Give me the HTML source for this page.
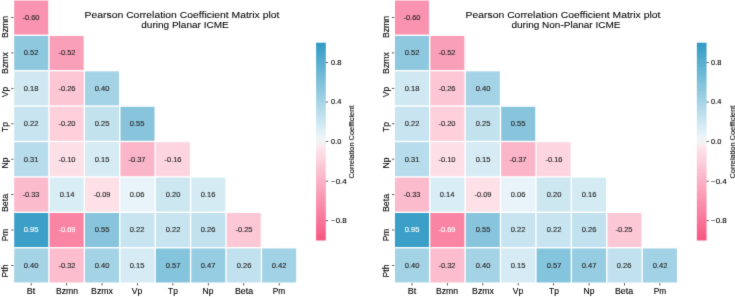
<!DOCTYPE html>
<html><head><meta charset="utf-8"><style>
html,body{margin:0;padding:0;background:#fff;}
body{width:735px;height:297px;position:relative;overflow:hidden;font-family:"Liberation Sans",sans-serif;}
#w{position:absolute;left:0;top:0;width:735px;height:297px;background:#fff;filter:url(#bf);}
.t,.r{position:absolute;}
.t{white-space:nowrap;-webkit-text-stroke:0.12px currentColor;}
.r{width:0;height:0;transform:rotate(-90deg);}
svg{position:absolute;left:0;top:0;}
.k{fill:#333;}
</style></head><body><svg width="0" height="0" style="position:absolute"><filter id="bf" x="0" y="0" width="100%" height="100%" color-interpolation-filters="sRGB"><feConvolveMatrix order="3" kernelMatrix="0.0113 0.0838 0.0113 0.0838 0.6193 0.0838 0.0113 0.0838 0.0113" edgeMode="duplicate"/></filter></svg><div id="w">
<svg width="735" height="297" viewBox="0 0 735 297"><defs><linearGradient id="g1" x1="0" y1="0" x2="0" y2="1"><stop offset="0.000%" stop-color="#329bc5"/><stop offset="0.391%" stop-color="#329bc5"/><stop offset="0.391%" stop-color="#349cc5"/><stop offset="0.781%" stop-color="#349cc5"/><stop offset="0.781%" stop-color="#359cc5"/><stop offset="1.172%" stop-color="#359cc5"/><stop offset="1.172%" stop-color="#369dc6"/><stop offset="1.562%" stop-color="#369dc6"/><stop offset="1.562%" stop-color="#389ec6"/><stop offset="1.953%" stop-color="#389ec6"/><stop offset="1.953%" stop-color="#399fc7"/><stop offset="2.344%" stop-color="#399fc7"/><stop offset="2.344%" stop-color="#3b9fc7"/><stop offset="2.734%" stop-color="#3b9fc7"/><stop offset="2.734%" stop-color="#3ca0c8"/><stop offset="3.125%" stop-color="#3ca0c8"/><stop offset="3.125%" stop-color="#3ea1c8"/><stop offset="3.516%" stop-color="#3ea1c8"/><stop offset="3.516%" stop-color="#3fa1c8"/><stop offset="3.906%" stop-color="#3fa1c8"/><stop offset="3.906%" stop-color="#41a2c9"/><stop offset="4.297%" stop-color="#41a2c9"/><stop offset="4.297%" stop-color="#43a3c9"/><stop offset="4.688%" stop-color="#43a3c9"/><stop offset="4.688%" stop-color="#44a4ca"/><stop offset="5.078%" stop-color="#44a4ca"/><stop offset="5.078%" stop-color="#46a5ca"/><stop offset="5.469%" stop-color="#46a5ca"/><stop offset="5.469%" stop-color="#47a5cb"/><stop offset="5.859%" stop-color="#47a5cb"/><stop offset="5.859%" stop-color="#49a6cb"/><stop offset="6.250%" stop-color="#49a6cb"/><stop offset="6.250%" stop-color="#4aa7cc"/><stop offset="6.641%" stop-color="#4aa7cc"/><stop offset="6.641%" stop-color="#4ba7cc"/><stop offset="7.031%" stop-color="#4ba7cc"/><stop offset="7.031%" stop-color="#4da8cc"/><stop offset="7.422%" stop-color="#4da8cc"/><stop offset="7.422%" stop-color="#4ea9cd"/><stop offset="7.812%" stop-color="#4ea9cd"/><stop offset="7.812%" stop-color="#50aacd"/><stop offset="8.203%" stop-color="#50aacd"/><stop offset="8.203%" stop-color="#52abce"/><stop offset="8.594%" stop-color="#52abce"/><stop offset="8.594%" stop-color="#53abce"/><stop offset="8.984%" stop-color="#53abce"/><stop offset="8.984%" stop-color="#55accf"/><stop offset="9.375%" stop-color="#55accf"/><stop offset="9.375%" stop-color="#56adcf"/><stop offset="9.766%" stop-color="#56adcf"/><stop offset="9.766%" stop-color="#58adcf"/><stop offset="10.156%" stop-color="#58adcf"/><stop offset="10.156%" stop-color="#59aed0"/><stop offset="10.547%" stop-color="#59aed0"/><stop offset="10.547%" stop-color="#5bafd0"/><stop offset="10.938%" stop-color="#5bafd0"/><stop offset="10.938%" stop-color="#5cb0d1"/><stop offset="11.328%" stop-color="#5cb0d1"/><stop offset="11.328%" stop-color="#5eb0d1"/><stop offset="11.719%" stop-color="#5eb0d1"/><stop offset="11.719%" stop-color="#5fb1d2"/><stop offset="12.109%" stop-color="#5fb1d2"/><stop offset="12.109%" stop-color="#61b2d2"/><stop offset="12.500%" stop-color="#61b2d2"/><stop offset="12.500%" stop-color="#63b3d3"/><stop offset="12.891%" stop-color="#63b3d3"/><stop offset="12.891%" stop-color="#64b3d3"/><stop offset="13.281%" stop-color="#64b3d3"/><stop offset="13.281%" stop-color="#65b4d3"/><stop offset="13.672%" stop-color="#65b4d3"/><stop offset="13.672%" stop-color="#67b5d4"/><stop offset="14.062%" stop-color="#67b5d4"/><stop offset="14.062%" stop-color="#68b6d4"/><stop offset="14.453%" stop-color="#68b6d4"/><stop offset="14.453%" stop-color="#6ab6d5"/><stop offset="14.844%" stop-color="#6ab6d5"/><stop offset="14.844%" stop-color="#6bb7d5"/><stop offset="15.234%" stop-color="#6bb7d5"/><stop offset="15.234%" stop-color="#6db8d6"/><stop offset="15.625%" stop-color="#6db8d6"/><stop offset="15.625%" stop-color="#6eb8d6"/><stop offset="16.016%" stop-color="#6eb8d6"/><stop offset="16.016%" stop-color="#70b9d7"/><stop offset="16.406%" stop-color="#70b9d7"/><stop offset="16.406%" stop-color="#72bad7"/><stop offset="16.797%" stop-color="#72bad7"/><stop offset="16.797%" stop-color="#73bbd7"/><stop offset="17.188%" stop-color="#73bbd7"/><stop offset="17.188%" stop-color="#75bcd8"/><stop offset="17.578%" stop-color="#75bcd8"/><stop offset="17.578%" stop-color="#76bcd8"/><stop offset="17.969%" stop-color="#76bcd8"/><stop offset="17.969%" stop-color="#78bdd9"/><stop offset="18.359%" stop-color="#78bdd9"/><stop offset="18.359%" stop-color="#79bed9"/><stop offset="18.750%" stop-color="#79bed9"/><stop offset="18.750%" stop-color="#7abeda"/><stop offset="19.141%" stop-color="#7abeda"/><stop offset="19.141%" stop-color="#7cbfda"/><stop offset="19.531%" stop-color="#7cbfda"/><stop offset="19.531%" stop-color="#7dc0da"/><stop offset="19.922%" stop-color="#7dc0da"/><stop offset="19.922%" stop-color="#80c1db"/><stop offset="20.312%" stop-color="#80c1db"/><stop offset="20.312%" stop-color="#81c2db"/><stop offset="20.703%" stop-color="#81c2db"/><stop offset="20.703%" stop-color="#82c2dc"/><stop offset="21.094%" stop-color="#82c2dc"/><stop offset="21.094%" stop-color="#84c3dc"/><stop offset="21.484%" stop-color="#84c3dc"/><stop offset="21.484%" stop-color="#85c4dd"/><stop offset="21.875%" stop-color="#85c4dd"/><stop offset="21.875%" stop-color="#87c5dd"/><stop offset="22.266%" stop-color="#87c5dd"/><stop offset="22.266%" stop-color="#88c5dd"/><stop offset="22.656%" stop-color="#88c5dd"/><stop offset="22.656%" stop-color="#8ac6de"/><stop offset="23.047%" stop-color="#8ac6de"/><stop offset="23.047%" stop-color="#8bc7de"/><stop offset="23.438%" stop-color="#8bc7de"/><stop offset="23.438%" stop-color="#8dc7df"/><stop offset="23.828%" stop-color="#8dc7df"/><stop offset="23.828%" stop-color="#8ec8df"/><stop offset="24.219%" stop-color="#8ec8df"/><stop offset="24.219%" stop-color="#90c9e0"/><stop offset="24.609%" stop-color="#90c9e0"/><stop offset="24.609%" stop-color="#92cae0"/><stop offset="25.000%" stop-color="#92cae0"/><stop offset="25.000%" stop-color="#93cbe1"/><stop offset="25.391%" stop-color="#93cbe1"/><stop offset="25.391%" stop-color="#95cbe1"/><stop offset="25.781%" stop-color="#95cbe1"/><stop offset="25.781%" stop-color="#96cce1"/><stop offset="26.172%" stop-color="#96cce1"/><stop offset="26.172%" stop-color="#97cde2"/><stop offset="26.562%" stop-color="#97cde2"/><stop offset="26.562%" stop-color="#99cde2"/><stop offset="26.953%" stop-color="#99cde2"/><stop offset="26.953%" stop-color="#9acee3"/><stop offset="27.344%" stop-color="#9acee3"/><stop offset="27.344%" stop-color="#9ccfe3"/><stop offset="27.734%" stop-color="#9ccfe3"/><stop offset="27.734%" stop-color="#9dd0e4"/><stop offset="28.125%" stop-color="#9dd0e4"/><stop offset="28.125%" stop-color="#9fd1e4"/><stop offset="28.516%" stop-color="#9fd1e4"/><stop offset="28.516%" stop-color="#a1d1e5"/><stop offset="28.906%" stop-color="#a1d1e5"/><stop offset="28.906%" stop-color="#a2d2e5"/><stop offset="29.297%" stop-color="#a2d2e5"/><stop offset="29.297%" stop-color="#a4d3e5"/><stop offset="29.688%" stop-color="#a4d3e5"/><stop offset="29.688%" stop-color="#a5d3e6"/><stop offset="30.078%" stop-color="#a5d3e6"/><stop offset="30.078%" stop-color="#a7d4e6"/><stop offset="30.469%" stop-color="#a7d4e6"/><stop offset="30.469%" stop-color="#a8d5e7"/><stop offset="30.859%" stop-color="#a8d5e7"/><stop offset="30.859%" stop-color="#aad6e7"/><stop offset="31.250%" stop-color="#aad6e7"/><stop offset="31.250%" stop-color="#abd6e7"/><stop offset="31.641%" stop-color="#abd6e7"/><stop offset="31.641%" stop-color="#acd7e8"/><stop offset="32.031%" stop-color="#acd7e8"/><stop offset="32.031%" stop-color="#afd8e9"/><stop offset="32.422%" stop-color="#afd8e9"/><stop offset="32.422%" stop-color="#b0d9e9"/><stop offset="32.812%" stop-color="#b0d9e9"/><stop offset="32.812%" stop-color="#b1d9e9"/><stop offset="33.203%" stop-color="#b1d9e9"/><stop offset="33.203%" stop-color="#b3daea"/><stop offset="33.594%" stop-color="#b3daea"/><stop offset="33.594%" stop-color="#b4dbea"/><stop offset="33.984%" stop-color="#b4dbea"/><stop offset="33.984%" stop-color="#b6dceb"/><stop offset="34.375%" stop-color="#b6dceb"/><stop offset="34.375%" stop-color="#b7dceb"/><stop offset="34.766%" stop-color="#b7dceb"/><stop offset="34.766%" stop-color="#b9ddeb"/><stop offset="35.156%" stop-color="#b9ddeb"/><stop offset="35.156%" stop-color="#badeec"/><stop offset="35.547%" stop-color="#badeec"/><stop offset="35.547%" stop-color="#bcdeec"/><stop offset="35.938%" stop-color="#bcdeec"/><stop offset="35.938%" stop-color="#bedfed"/><stop offset="36.328%" stop-color="#bedfed"/><stop offset="36.328%" stop-color="#bfe0ed"/><stop offset="36.719%" stop-color="#bfe0ed"/><stop offset="36.719%" stop-color="#c1e1ee"/><stop offset="37.109%" stop-color="#c1e1ee"/><stop offset="37.109%" stop-color="#c2e2ee"/><stop offset="37.500%" stop-color="#c2e2ee"/><stop offset="37.500%" stop-color="#c4e2ef"/><stop offset="37.891%" stop-color="#c4e2ef"/><stop offset="37.891%" stop-color="#c5e3ef"/><stop offset="38.281%" stop-color="#c5e3ef"/><stop offset="38.281%" stop-color="#c6e4ef"/><stop offset="38.672%" stop-color="#c6e4ef"/><stop offset="38.672%" stop-color="#c8e4f0"/><stop offset="39.062%" stop-color="#c8e4f0"/><stop offset="39.062%" stop-color="#c9e5f0"/><stop offset="39.453%" stop-color="#c9e5f0"/><stop offset="39.453%" stop-color="#cbe6f1"/><stop offset="39.844%" stop-color="#cbe6f1"/><stop offset="39.844%" stop-color="#cde7f1"/><stop offset="40.234%" stop-color="#cde7f1"/><stop offset="40.234%" stop-color="#cee8f2"/><stop offset="40.625%" stop-color="#cee8f2"/><stop offset="40.625%" stop-color="#d0e8f2"/><stop offset="41.016%" stop-color="#d0e8f2"/><stop offset="41.016%" stop-color="#d1e9f3"/><stop offset="41.406%" stop-color="#d1e9f3"/><stop offset="41.406%" stop-color="#d3eaf3"/><stop offset="41.797%" stop-color="#d3eaf3"/><stop offset="41.797%" stop-color="#d4ebf3"/><stop offset="42.188%" stop-color="#d4ebf3"/><stop offset="42.188%" stop-color="#d6ebf4"/><stop offset="42.578%" stop-color="#d6ebf4"/><stop offset="42.578%" stop-color="#d7ecf4"/><stop offset="42.969%" stop-color="#d7ecf4"/><stop offset="42.969%" stop-color="#d9edf5"/><stop offset="43.359%" stop-color="#d9edf5"/><stop offset="43.359%" stop-color="#daedf5"/><stop offset="43.750%" stop-color="#daedf5"/><stop offset="43.750%" stop-color="#dceef6"/><stop offset="44.141%" stop-color="#dceef6"/><stop offset="44.141%" stop-color="#deeff6"/><stop offset="44.531%" stop-color="#deeff6"/><stop offset="44.531%" stop-color="#dff0f6"/><stop offset="44.922%" stop-color="#dff0f6"/><stop offset="44.922%" stop-color="#e1f1f7"/><stop offset="45.312%" stop-color="#e1f1f7"/><stop offset="45.312%" stop-color="#e2f1f7"/><stop offset="45.703%" stop-color="#e2f1f7"/><stop offset="45.703%" stop-color="#e3f2f8"/><stop offset="46.094%" stop-color="#e3f2f8"/><stop offset="46.094%" stop-color="#e5f3f8"/><stop offset="46.484%" stop-color="#e5f3f8"/><stop offset="46.484%" stop-color="#e6f3f9"/><stop offset="46.875%" stop-color="#e6f3f9"/><stop offset="46.875%" stop-color="#e8f4f9"/><stop offset="47.266%" stop-color="#e8f4f9"/><stop offset="47.266%" stop-color="#e9f5f9"/><stop offset="47.656%" stop-color="#e9f5f9"/><stop offset="47.656%" stop-color="#ebf6fa"/><stop offset="48.047%" stop-color="#ebf6fa"/><stop offset="48.047%" stop-color="#f2f2f2"/><stop offset="48.438%" stop-color="#f2f2f2"/><stop offset="48.438%" stop-color="#f2f2f2"/><stop offset="48.828%" stop-color="#f2f2f2"/><stop offset="48.828%" stop-color="#f2f2f2"/><stop offset="49.219%" stop-color="#f2f2f2"/><stop offset="49.219%" stop-color="#f2f2f2"/><stop offset="49.609%" stop-color="#f2f2f2"/><stop offset="49.609%" stop-color="#f2f2f2"/><stop offset="50.000%" stop-color="#f2f2f2"/><stop offset="50.000%" stop-color="#f2f2f2"/><stop offset="50.391%" stop-color="#f2f2f2"/><stop offset="50.391%" stop-color="#f2f2f2"/><stop offset="50.781%" stop-color="#f2f2f2"/><stop offset="50.781%" stop-color="#f2f2f2"/><stop offset="51.172%" stop-color="#f2f2f2"/><stop offset="51.172%" stop-color="#f2f2f2"/><stop offset="51.562%" stop-color="#f2f2f2"/><stop offset="51.562%" stop-color="#f2f2f2"/><stop offset="51.953%" stop-color="#f2f2f2"/><stop offset="51.953%" stop-color="#fee7ed"/><stop offset="52.344%" stop-color="#fee7ed"/><stop offset="52.344%" stop-color="#fee6ec"/><stop offset="52.734%" stop-color="#fee6ec"/><stop offset="52.734%" stop-color="#fee4eb"/><stop offset="53.125%" stop-color="#fee4eb"/><stop offset="53.125%" stop-color="#fee3ea"/><stop offset="53.516%" stop-color="#fee3ea"/><stop offset="53.516%" stop-color="#fee2ea"/><stop offset="53.906%" stop-color="#fee2ea"/><stop offset="53.906%" stop-color="#fee1e9"/><stop offset="54.297%" stop-color="#fee1e9"/><stop offset="54.297%" stop-color="#fde0e8"/><stop offset="54.688%" stop-color="#fde0e8"/><stop offset="54.688%" stop-color="#fddfe7"/><stop offset="55.078%" stop-color="#fddfe7"/><stop offset="55.078%" stop-color="#fddee6"/><stop offset="55.469%" stop-color="#fddee6"/><stop offset="55.469%" stop-color="#fddde5"/><stop offset="55.859%" stop-color="#fddde5"/><stop offset="55.859%" stop-color="#fddbe5"/><stop offset="56.250%" stop-color="#fddbe5"/><stop offset="56.250%" stop-color="#fddae3"/><stop offset="56.641%" stop-color="#fddae3"/><stop offset="56.641%" stop-color="#fdd9e3"/><stop offset="57.031%" stop-color="#fdd9e3"/><stop offset="57.031%" stop-color="#fdd7e2"/><stop offset="57.422%" stop-color="#fdd7e2"/><stop offset="57.422%" stop-color="#fdd6e1"/><stop offset="57.812%" stop-color="#fdd6e1"/><stop offset="57.812%" stop-color="#fdd5e0"/><stop offset="58.203%" stop-color="#fdd5e0"/><stop offset="58.203%" stop-color="#fdd4df"/><stop offset="58.594%" stop-color="#fdd4df"/><stop offset="58.594%" stop-color="#fdd3de"/><stop offset="58.984%" stop-color="#fdd3de"/><stop offset="58.984%" stop-color="#fdd2de"/><stop offset="59.375%" stop-color="#fdd2de"/><stop offset="59.375%" stop-color="#fdd1dd"/><stop offset="59.766%" stop-color="#fdd1dd"/><stop offset="59.766%" stop-color="#fdd0dc"/><stop offset="60.156%" stop-color="#fdd0dc"/><stop offset="60.156%" stop-color="#fdcedb"/><stop offset="60.547%" stop-color="#fdcedb"/><stop offset="60.547%" stop-color="#fdcdda"/><stop offset="60.938%" stop-color="#fdcdda"/><stop offset="60.938%" stop-color="#fcccd9"/><stop offset="61.328%" stop-color="#fcccd9"/><stop offset="61.328%" stop-color="#fccad8"/><stop offset="61.719%" stop-color="#fccad8"/><stop offset="61.719%" stop-color="#fcc9d7"/><stop offset="62.109%" stop-color="#fcc9d7"/><stop offset="62.109%" stop-color="#fcc8d6"/><stop offset="62.500%" stop-color="#fcc8d6"/><stop offset="62.500%" stop-color="#fcc7d6"/><stop offset="62.891%" stop-color="#fcc7d6"/><stop offset="62.891%" stop-color="#fcc6d5"/><stop offset="63.281%" stop-color="#fcc6d5"/><stop offset="63.281%" stop-color="#fcc5d4"/><stop offset="63.672%" stop-color="#fcc5d4"/><stop offset="63.672%" stop-color="#fcc4d3"/><stop offset="64.062%" stop-color="#fcc4d3"/><stop offset="64.062%" stop-color="#fcc2d2"/><stop offset="64.453%" stop-color="#fcc2d2"/><stop offset="64.453%" stop-color="#fcc1d1"/><stop offset="64.844%" stop-color="#fcc1d1"/><stop offset="64.844%" stop-color="#fcc0d0"/><stop offset="65.234%" stop-color="#fcc0d0"/><stop offset="65.234%" stop-color="#fcbfcf"/><stop offset="65.625%" stop-color="#fcbfcf"/><stop offset="65.625%" stop-color="#fcbdce"/><stop offset="66.016%" stop-color="#fcbdce"/><stop offset="66.016%" stop-color="#fcbcce"/><stop offset="66.406%" stop-color="#fcbcce"/><stop offset="66.406%" stop-color="#fcbbcd"/><stop offset="66.797%" stop-color="#fcbbcd"/><stop offset="66.797%" stop-color="#fcbacc"/><stop offset="67.188%" stop-color="#fcbacc"/><stop offset="67.188%" stop-color="#fcb9cb"/><stop offset="67.578%" stop-color="#fcb9cb"/><stop offset="67.578%" stop-color="#fcb8ca"/><stop offset="67.969%" stop-color="#fcb8ca"/><stop offset="67.969%" stop-color="#fbb6c9"/><stop offset="68.359%" stop-color="#fbb6c9"/><stop offset="68.359%" stop-color="#fbb5c8"/><stop offset="68.750%" stop-color="#fbb5c8"/><stop offset="68.750%" stop-color="#fbb4c7"/><stop offset="69.141%" stop-color="#fbb4c7"/><stop offset="69.141%" stop-color="#fbb3c7"/><stop offset="69.531%" stop-color="#fbb3c7"/><stop offset="69.531%" stop-color="#fbb2c6"/><stop offset="69.922%" stop-color="#fbb2c6"/><stop offset="69.922%" stop-color="#fbb0c5"/><stop offset="70.312%" stop-color="#fbb0c5"/><stop offset="70.312%" stop-color="#fbafc4"/><stop offset="70.703%" stop-color="#fbafc4"/><stop offset="70.703%" stop-color="#fbaec3"/><stop offset="71.094%" stop-color="#fbaec3"/><stop offset="71.094%" stop-color="#fbadc2"/><stop offset="71.484%" stop-color="#fbadc2"/><stop offset="71.484%" stop-color="#fbacc2"/><stop offset="71.875%" stop-color="#fbacc2"/><stop offset="71.875%" stop-color="#fbaac0"/><stop offset="72.266%" stop-color="#fbaac0"/><stop offset="72.266%" stop-color="#fba9bf"/><stop offset="72.656%" stop-color="#fba9bf"/><stop offset="72.656%" stop-color="#fba8bf"/><stop offset="73.047%" stop-color="#fba8bf"/><stop offset="73.047%" stop-color="#fba7be"/><stop offset="73.438%" stop-color="#fba7be"/><stop offset="73.438%" stop-color="#fba6bd"/><stop offset="73.828%" stop-color="#fba6bd"/><stop offset="73.828%" stop-color="#fba5bc"/><stop offset="74.219%" stop-color="#fba5bc"/><stop offset="74.219%" stop-color="#fba3bb"/><stop offset="74.609%" stop-color="#fba3bb"/><stop offset="74.609%" stop-color="#faa2ba"/><stop offset="75.000%" stop-color="#faa2ba"/><stop offset="75.000%" stop-color="#faa1ba"/><stop offset="75.391%" stop-color="#faa1ba"/><stop offset="75.391%" stop-color="#faa0b9"/><stop offset="75.781%" stop-color="#faa0b9"/><stop offset="75.781%" stop-color="#fa9fb8"/><stop offset="76.172%" stop-color="#fa9fb8"/><stop offset="76.172%" stop-color="#fa9db7"/><stop offset="76.562%" stop-color="#fa9db7"/><stop offset="76.562%" stop-color="#fa9cb6"/><stop offset="76.953%" stop-color="#fa9cb6"/><stop offset="76.953%" stop-color="#fa9bb5"/><stop offset="77.344%" stop-color="#fa9bb5"/><stop offset="77.344%" stop-color="#fa9ab4"/><stop offset="77.734%" stop-color="#fa9ab4"/><stop offset="77.734%" stop-color="#fa99b3"/><stop offset="78.125%" stop-color="#fa99b3"/><stop offset="78.125%" stop-color="#fa98b2"/><stop offset="78.516%" stop-color="#fa98b2"/><stop offset="78.516%" stop-color="#fa97b2"/><stop offset="78.906%" stop-color="#fa97b2"/><stop offset="78.906%" stop-color="#fa95b1"/><stop offset="79.297%" stop-color="#fa95b1"/><stop offset="79.297%" stop-color="#fa94b0"/><stop offset="79.688%" stop-color="#fa94b0"/><stop offset="79.688%" stop-color="#fa93af"/><stop offset="80.078%" stop-color="#fa93af"/><stop offset="80.078%" stop-color="#fa91ae"/><stop offset="80.469%" stop-color="#fa91ae"/><stop offset="80.469%" stop-color="#fa90ad"/><stop offset="80.859%" stop-color="#fa90ad"/><stop offset="80.859%" stop-color="#fa8fac"/><stop offset="81.250%" stop-color="#fa8fac"/><stop offset="81.250%" stop-color="#f98eab"/><stop offset="81.641%" stop-color="#f98eab"/><stop offset="81.641%" stop-color="#f98dab"/><stop offset="82.031%" stop-color="#f98dab"/><stop offset="82.031%" stop-color="#f98caa"/><stop offset="82.422%" stop-color="#f98caa"/><stop offset="82.422%" stop-color="#f98ba9"/><stop offset="82.812%" stop-color="#f98ba9"/><stop offset="82.812%" stop-color="#f98aa8"/><stop offset="83.203%" stop-color="#f98aa8"/><stop offset="83.203%" stop-color="#f988a7"/><stop offset="83.594%" stop-color="#f988a7"/><stop offset="83.594%" stop-color="#f987a6"/><stop offset="83.984%" stop-color="#f987a6"/><stop offset="83.984%" stop-color="#f986a5"/><stop offset="84.375%" stop-color="#f986a5"/><stop offset="84.375%" stop-color="#f984a4"/><stop offset="84.766%" stop-color="#f984a4"/><stop offset="84.766%" stop-color="#f983a3"/><stop offset="85.156%" stop-color="#f983a3"/><stop offset="85.156%" stop-color="#f982a3"/><stop offset="85.547%" stop-color="#f982a3"/><stop offset="85.547%" stop-color="#f981a2"/><stop offset="85.938%" stop-color="#f981a2"/><stop offset="85.938%" stop-color="#f980a1"/><stop offset="86.328%" stop-color="#f980a1"/><stop offset="86.328%" stop-color="#f97fa0"/><stop offset="86.719%" stop-color="#f97fa0"/><stop offset="86.719%" stop-color="#f97e9f"/><stop offset="87.109%" stop-color="#f97e9f"/><stop offset="87.109%" stop-color="#f97d9e"/><stop offset="87.500%" stop-color="#f97d9e"/><stop offset="87.500%" stop-color="#f97b9e"/><stop offset="87.891%" stop-color="#f97b9e"/><stop offset="87.891%" stop-color="#f87a9c"/><stop offset="88.281%" stop-color="#f87a9c"/><stop offset="88.281%" stop-color="#f8799c"/><stop offset="88.672%" stop-color="#f8799c"/><stop offset="88.672%" stop-color="#f8779b"/><stop offset="89.062%" stop-color="#f8779b"/><stop offset="89.062%" stop-color="#f8769a"/><stop offset="89.453%" stop-color="#f8769a"/><stop offset="89.453%" stop-color="#f87599"/><stop offset="89.844%" stop-color="#f87599"/><stop offset="89.844%" stop-color="#f87498"/><stop offset="90.234%" stop-color="#f87498"/><stop offset="90.234%" stop-color="#f87397"/><stop offset="90.625%" stop-color="#f87397"/><stop offset="90.625%" stop-color="#f87296"/><stop offset="91.016%" stop-color="#f87296"/><stop offset="91.016%" stop-color="#f87196"/><stop offset="91.406%" stop-color="#f87196"/><stop offset="91.406%" stop-color="#f87095"/><stop offset="91.797%" stop-color="#f87095"/><stop offset="91.797%" stop-color="#f86e94"/><stop offset="92.188%" stop-color="#f86e94"/><stop offset="92.188%" stop-color="#f86d93"/><stop offset="92.578%" stop-color="#f86d93"/><stop offset="92.578%" stop-color="#f86c92"/><stop offset="92.969%" stop-color="#f86c92"/><stop offset="92.969%" stop-color="#f86a91"/><stop offset="93.359%" stop-color="#f86a91"/><stop offset="93.359%" stop-color="#f86990"/><stop offset="93.750%" stop-color="#f86990"/><stop offset="93.750%" stop-color="#f8688f"/><stop offset="94.141%" stop-color="#f8688f"/><stop offset="94.141%" stop-color="#f8678f"/><stop offset="94.531%" stop-color="#f8678f"/><stop offset="94.531%" stop-color="#f8668e"/><stop offset="94.922%" stop-color="#f8668e"/><stop offset="94.922%" stop-color="#f7658d"/><stop offset="95.312%" stop-color="#f7658d"/><stop offset="95.312%" stop-color="#f7648c"/><stop offset="95.703%" stop-color="#f7648c"/><stop offset="95.703%" stop-color="#f7628b"/><stop offset="96.094%" stop-color="#f7628b"/><stop offset="96.094%" stop-color="#f7618a"/><stop offset="96.484%" stop-color="#f7618a"/><stop offset="96.484%" stop-color="#f76089"/><stop offset="96.875%" stop-color="#f76089"/><stop offset="96.875%" stop-color="#f75f88"/><stop offset="97.266%" stop-color="#f75f88"/><stop offset="97.266%" stop-color="#f75d87"/><stop offset="97.656%" stop-color="#f75d87"/><stop offset="97.656%" stop-color="#f75c87"/><stop offset="98.047%" stop-color="#f75c87"/><stop offset="98.047%" stop-color="#f75b86"/><stop offset="98.438%" stop-color="#f75b86"/><stop offset="98.438%" stop-color="#f75a85"/><stop offset="98.828%" stop-color="#f75a85"/><stop offset="98.828%" stop-color="#f75984"/><stop offset="99.219%" stop-color="#f75984"/><stop offset="99.219%" stop-color="#f75883"/><stop offset="99.609%" stop-color="#f75883"/><stop offset="99.609%" stop-color="#f75782"/><stop offset="100.000%" stop-color="#f75782"/></linearGradient></defs>
<rect x="14.20" y="0.50" width="34.02" height="34.02" fill="#fa93af"/>
<rect x="14.20" y="35.92" width="34.02" height="34.02" fill="#8ec8df"/>
<rect x="49.62" y="35.92" width="34.02" height="34.02" fill="#fa9fb8"/>
<rect x="14.20" y="71.34" width="34.02" height="34.02" fill="#d0e8f2"/>
<rect x="49.62" y="71.34" width="34.02" height="34.02" fill="#fcc6d5"/>
<rect x="85.04" y="71.34" width="34.02" height="34.02" fill="#a5d3e6"/>
<rect x="14.20" y="106.76" width="34.02" height="34.02" fill="#c8e4f0"/>
<rect x="49.62" y="106.76" width="34.02" height="34.02" fill="#fdd0dc"/>
<rect x="85.04" y="106.76" width="34.02" height="34.02" fill="#c2e2ee"/>
<rect x="120.46" y="106.76" width="34.02" height="34.02" fill="#88c5dd"/>
<rect x="14.20" y="142.18" width="34.02" height="34.02" fill="#b7dceb"/>
<rect x="49.62" y="142.18" width="34.02" height="34.02" fill="#fddfe7"/>
<rect x="85.04" y="142.18" width="34.02" height="34.02" fill="#d6ebf4"/>
<rect x="120.46" y="142.18" width="34.02" height="34.02" fill="#fbb5c8"/>
<rect x="155.88" y="142.18" width="34.02" height="34.02" fill="#fdd5e0"/>
<rect x="14.20" y="177.60" width="34.02" height="34.02" fill="#fcbbcd"/>
<rect x="49.62" y="177.60" width="34.02" height="34.02" fill="#d9edf5"/>
<rect x="85.04" y="177.60" width="34.02" height="34.02" fill="#fde0e8"/>
<rect x="120.46" y="177.60" width="34.02" height="34.02" fill="#e8f4f9"/>
<rect x="155.88" y="177.60" width="34.02" height="34.02" fill="#cde7f1"/>
<rect x="191.30" y="177.60" width="34.02" height="34.02" fill="#d4ebf3"/>
<rect x="14.20" y="213.02" width="34.02" height="34.02" fill="#3b9fc7"/>
<rect x="49.62" y="213.02" width="34.02" height="34.02" fill="#f984a4"/>
<rect x="85.04" y="213.02" width="34.02" height="34.02" fill="#88c5dd"/>
<rect x="120.46" y="213.02" width="34.02" height="34.02" fill="#c8e4f0"/>
<rect x="155.88" y="213.02" width="34.02" height="34.02" fill="#c8e4f0"/>
<rect x="191.30" y="213.02" width="34.02" height="34.02" fill="#c1e1ee"/>
<rect x="226.72" y="213.02" width="34.02" height="34.02" fill="#fcc8d6"/>
<rect x="14.20" y="248.44" width="34.02" height="34.02" fill="#a5d3e6"/>
<rect x="49.62" y="248.44" width="34.02" height="34.02" fill="#fcbdce"/>
<rect x="85.04" y="248.44" width="34.02" height="34.02" fill="#a5d3e6"/>
<rect x="120.46" y="248.44" width="34.02" height="34.02" fill="#d6ebf4"/>
<rect x="155.88" y="248.44" width="34.02" height="34.02" fill="#85c4dd"/>
<rect x="191.30" y="248.44" width="34.02" height="34.02" fill="#97cde2"/>
<rect x="226.72" y="248.44" width="34.02" height="34.02" fill="#c1e1ee"/>
<rect x="262.14" y="248.44" width="34.02" height="34.02" fill="#a2d2e5"/>
<rect class="k" x="11.20" y="17.11" width="2.3" height="0.8"/>
<rect class="k" x="11.20" y="52.53" width="2.3" height="0.8"/>
<rect class="k" x="11.20" y="87.95" width="2.3" height="0.8"/>
<rect class="k" x="11.20" y="123.37" width="2.3" height="0.8"/>
<rect class="k" x="11.20" y="158.79" width="2.3" height="0.8"/>
<rect class="k" x="11.20" y="194.21" width="2.3" height="0.8"/>
<rect class="k" x="11.20" y="229.63" width="2.3" height="0.8"/>
<rect class="k" x="11.20" y="265.05" width="2.3" height="0.8"/>
<rect class="k" x="30.81" y="283.16" width="0.8" height="2.3"/>
<rect class="k" x="66.23" y="283.16" width="0.8" height="2.3"/>
<rect class="k" x="101.65" y="283.16" width="0.8" height="2.3"/>
<rect class="k" x="137.07" y="283.16" width="0.8" height="2.3"/>
<rect class="k" x="172.49" y="283.16" width="0.8" height="2.3"/>
<rect class="k" x="207.91" y="283.16" width="0.8" height="2.3"/>
<rect class="k" x="243.33" y="283.16" width="0.8" height="2.3"/>
<rect class="k" x="278.75" y="283.16" width="0.8" height="2.3"/>
<rect x="316.10" y="42.70" width="9.70" height="197.80" fill="url(#g1)"/>
<rect class="k" x="325.80" y="62.08" width="2.3" height="0.8"/>
<rect class="k" x="325.80" y="101.64" width="2.3" height="0.8"/>
<rect class="k" x="325.80" y="141.20" width="2.3" height="0.8"/>
<rect class="k" x="325.80" y="180.76" width="2.3" height="0.8"/>
<rect class="k" x="325.80" y="220.32" width="2.3" height="0.8"/>
<rect x="394.95" y="0.50" width="34.02" height="34.02" fill="#fa93af"/>
<rect x="394.95" y="35.92" width="34.02" height="34.02" fill="#8ec8df"/>
<rect x="430.37" y="35.92" width="34.02" height="34.02" fill="#fa9fb8"/>
<rect x="394.95" y="71.34" width="34.02" height="34.02" fill="#d0e8f2"/>
<rect x="430.37" y="71.34" width="34.02" height="34.02" fill="#fcc6d5"/>
<rect x="465.79" y="71.34" width="34.02" height="34.02" fill="#a5d3e6"/>
<rect x="394.95" y="106.76" width="34.02" height="34.02" fill="#c8e4f0"/>
<rect x="430.37" y="106.76" width="34.02" height="34.02" fill="#fdd0dc"/>
<rect x="465.79" y="106.76" width="34.02" height="34.02" fill="#c2e2ee"/>
<rect x="501.21" y="106.76" width="34.02" height="34.02" fill="#88c5dd"/>
<rect x="394.95" y="142.18" width="34.02" height="34.02" fill="#b7dceb"/>
<rect x="430.37" y="142.18" width="34.02" height="34.02" fill="#fddfe7"/>
<rect x="465.79" y="142.18" width="34.02" height="34.02" fill="#d6ebf4"/>
<rect x="501.21" y="142.18" width="34.02" height="34.02" fill="#fbb5c8"/>
<rect x="536.63" y="142.18" width="34.02" height="34.02" fill="#fdd5e0"/>
<rect x="394.95" y="177.60" width="34.02" height="34.02" fill="#fcbbcd"/>
<rect x="430.37" y="177.60" width="34.02" height="34.02" fill="#d9edf5"/>
<rect x="465.79" y="177.60" width="34.02" height="34.02" fill="#fde0e8"/>
<rect x="501.21" y="177.60" width="34.02" height="34.02" fill="#e8f4f9"/>
<rect x="536.63" y="177.60" width="34.02" height="34.02" fill="#cde7f1"/>
<rect x="572.05" y="177.60" width="34.02" height="34.02" fill="#d4ebf3"/>
<rect x="394.95" y="213.02" width="34.02" height="34.02" fill="#3b9fc7"/>
<rect x="430.37" y="213.02" width="34.02" height="34.02" fill="#f984a4"/>
<rect x="465.79" y="213.02" width="34.02" height="34.02" fill="#88c5dd"/>
<rect x="501.21" y="213.02" width="34.02" height="34.02" fill="#c8e4f0"/>
<rect x="536.63" y="213.02" width="34.02" height="34.02" fill="#c8e4f0"/>
<rect x="572.05" y="213.02" width="34.02" height="34.02" fill="#c1e1ee"/>
<rect x="607.47" y="213.02" width="34.02" height="34.02" fill="#fcc8d6"/>
<rect x="394.95" y="248.44" width="34.02" height="34.02" fill="#a5d3e6"/>
<rect x="430.37" y="248.44" width="34.02" height="34.02" fill="#fcbdce"/>
<rect x="465.79" y="248.44" width="34.02" height="34.02" fill="#a5d3e6"/>
<rect x="501.21" y="248.44" width="34.02" height="34.02" fill="#d6ebf4"/>
<rect x="536.63" y="248.44" width="34.02" height="34.02" fill="#85c4dd"/>
<rect x="572.05" y="248.44" width="34.02" height="34.02" fill="#97cde2"/>
<rect x="607.47" y="248.44" width="34.02" height="34.02" fill="#c1e1ee"/>
<rect x="642.89" y="248.44" width="34.02" height="34.02" fill="#a2d2e5"/>
<rect class="k" x="391.95" y="17.11" width="2.3" height="0.8"/>
<rect class="k" x="391.95" y="52.53" width="2.3" height="0.8"/>
<rect class="k" x="391.95" y="87.95" width="2.3" height="0.8"/>
<rect class="k" x="391.95" y="123.37" width="2.3" height="0.8"/>
<rect class="k" x="391.95" y="158.79" width="2.3" height="0.8"/>
<rect class="k" x="391.95" y="194.21" width="2.3" height="0.8"/>
<rect class="k" x="391.95" y="229.63" width="2.3" height="0.8"/>
<rect class="k" x="391.95" y="265.05" width="2.3" height="0.8"/>
<rect class="k" x="411.56" y="283.16" width="0.8" height="2.3"/>
<rect class="k" x="446.98" y="283.16" width="0.8" height="2.3"/>
<rect class="k" x="482.40" y="283.16" width="0.8" height="2.3"/>
<rect class="k" x="517.82" y="283.16" width="0.8" height="2.3"/>
<rect class="k" x="553.24" y="283.16" width="0.8" height="2.3"/>
<rect class="k" x="588.66" y="283.16" width="0.8" height="2.3"/>
<rect class="k" x="624.08" y="283.16" width="0.8" height="2.3"/>
<rect class="k" x="659.50" y="283.16" width="0.8" height="2.3"/>
<rect x="696.85" y="42.70" width="9.70" height="197.80" fill="url(#g1)"/>
<rect class="k" x="706.55" y="62.08" width="2.3" height="0.8"/>
<rect class="k" x="706.55" y="101.64" width="2.3" height="0.8"/>
<rect class="k" x="706.55" y="141.20" width="2.3" height="0.8"/>
<rect class="k" x="706.55" y="180.76" width="2.3" height="0.8"/>
<rect class="k" x="706.55" y="220.32" width="2.3" height="0.8"/>
</svg>
<div class="t" style="left:-118.79px;top:14.85px;width:300px;text-align:center;font-size:6.93px;line-height:6.93px;color:#262626;transform:scaleX(1.0811)">-0.60</div>
<div class="t" style="left:-118.79px;top:50.27px;width:300px;text-align:center;font-size:6.93px;line-height:6.93px;color:#262626;transform:scaleX(1.0895)">0.52</div>
<div class="t" style="left:-83.37px;top:50.27px;width:300px;text-align:center;font-size:6.93px;line-height:6.93px;color:#262626;transform:scaleX(1.0811)">-0.52</div>
<div class="t" style="left:-118.79px;top:85.69px;width:300px;text-align:center;font-size:6.93px;line-height:6.93px;color:#262626;transform:scaleX(1.0895)">0.18</div>
<div class="t" style="left:-83.37px;top:85.69px;width:300px;text-align:center;font-size:6.93px;line-height:6.93px;color:#262626;transform:scaleX(1.0811)">-0.26</div>
<div class="t" style="left:-47.95px;top:85.69px;width:300px;text-align:center;font-size:6.93px;line-height:6.93px;color:#262626;transform:scaleX(1.0895)">0.40</div>
<div class="t" style="left:-118.79px;top:121.11px;width:300px;text-align:center;font-size:6.93px;line-height:6.93px;color:#262626;transform:scaleX(1.0895)">0.22</div>
<div class="t" style="left:-83.37px;top:121.11px;width:300px;text-align:center;font-size:6.93px;line-height:6.93px;color:#262626;transform:scaleX(1.0811)">-0.20</div>
<div class="t" style="left:-47.95px;top:121.11px;width:300px;text-align:center;font-size:6.93px;line-height:6.93px;color:#262626;transform:scaleX(1.0895)">0.25</div>
<div class="t" style="left:-12.53px;top:121.11px;width:300px;text-align:center;font-size:6.93px;line-height:6.93px;color:#262626;transform:scaleX(1.0895)">0.55</div>
<div class="t" style="left:-118.79px;top:156.53px;width:300px;text-align:center;font-size:6.93px;line-height:6.93px;color:#262626;transform:scaleX(1.0895)">0.31</div>
<div class="t" style="left:-83.37px;top:156.53px;width:300px;text-align:center;font-size:6.93px;line-height:6.93px;color:#262626;transform:scaleX(1.0811)">-0.10</div>
<div class="t" style="left:-47.95px;top:156.53px;width:300px;text-align:center;font-size:6.93px;line-height:6.93px;color:#262626;transform:scaleX(1.0895)">0.15</div>
<div class="t" style="left:-12.53px;top:156.53px;width:300px;text-align:center;font-size:6.93px;line-height:6.93px;color:#262626;transform:scaleX(1.0811)">-0.37</div>
<div class="t" style="left:22.89px;top:156.53px;width:300px;text-align:center;font-size:6.93px;line-height:6.93px;color:#262626;transform:scaleX(1.0811)">-0.16</div>
<div class="t" style="left:-118.79px;top:191.95px;width:300px;text-align:center;font-size:6.93px;line-height:6.93px;color:#262626;transform:scaleX(1.0811)">-0.33</div>
<div class="t" style="left:-83.37px;top:191.95px;width:300px;text-align:center;font-size:6.93px;line-height:6.93px;color:#262626;transform:scaleX(1.0895)">0.14</div>
<div class="t" style="left:-47.95px;top:191.95px;width:300px;text-align:center;font-size:6.93px;line-height:6.93px;color:#262626;transform:scaleX(1.0811)">-0.09</div>
<div class="t" style="left:-12.53px;top:191.95px;width:300px;text-align:center;font-size:6.93px;line-height:6.93px;color:#262626;transform:scaleX(1.0895)">0.06</div>
<div class="t" style="left:22.89px;top:191.95px;width:300px;text-align:center;font-size:6.93px;line-height:6.93px;color:#262626;transform:scaleX(1.0895)">0.20</div>
<div class="t" style="left:58.31px;top:191.95px;width:300px;text-align:center;font-size:6.93px;line-height:6.93px;color:#262626;transform:scaleX(1.0895)">0.16</div>
<div class="t" style="left:-118.79px;top:227.37px;width:300px;text-align:center;font-size:6.93px;line-height:6.93px;color:#ffffff;transform:scaleX(1.0895)">0.95</div>
<div class="t" style="left:-83.37px;top:227.37px;width:300px;text-align:center;font-size:6.93px;line-height:6.93px;color:#ffffff;transform:scaleX(1.0811)">-0.69</div>
<div class="t" style="left:-47.95px;top:227.37px;width:300px;text-align:center;font-size:6.93px;line-height:6.93px;color:#262626;transform:scaleX(1.0895)">0.55</div>
<div class="t" style="left:-12.53px;top:227.37px;width:300px;text-align:center;font-size:6.93px;line-height:6.93px;color:#262626;transform:scaleX(1.0895)">0.22</div>
<div class="t" style="left:22.89px;top:227.37px;width:300px;text-align:center;font-size:6.93px;line-height:6.93px;color:#262626;transform:scaleX(1.0895)">0.22</div>
<div class="t" style="left:58.31px;top:227.37px;width:300px;text-align:center;font-size:6.93px;line-height:6.93px;color:#262626;transform:scaleX(1.0895)">0.26</div>
<div class="t" style="left:93.73px;top:227.37px;width:300px;text-align:center;font-size:6.93px;line-height:6.93px;color:#262626;transform:scaleX(1.0811)">-0.25</div>
<div class="t" style="left:-118.79px;top:262.79px;width:300px;text-align:center;font-size:6.93px;line-height:6.93px;color:#262626;transform:scaleX(1.0895)">0.40</div>
<div class="t" style="left:-83.37px;top:262.79px;width:300px;text-align:center;font-size:6.93px;line-height:6.93px;color:#262626;transform:scaleX(1.0811)">-0.32</div>
<div class="t" style="left:-47.95px;top:262.79px;width:300px;text-align:center;font-size:6.93px;line-height:6.93px;color:#262626;transform:scaleX(1.0895)">0.40</div>
<div class="t" style="left:-12.53px;top:262.79px;width:300px;text-align:center;font-size:6.93px;line-height:6.93px;color:#262626;transform:scaleX(1.0895)">0.15</div>
<div class="t" style="left:22.89px;top:262.79px;width:300px;text-align:center;font-size:6.93px;line-height:6.93px;color:#262626;transform:scaleX(1.0895)">0.57</div>
<div class="t" style="left:58.31px;top:262.79px;width:300px;text-align:center;font-size:6.93px;line-height:6.93px;color:#262626;transform:scaleX(1.0895)">0.47</div>
<div class="t" style="left:93.73px;top:262.79px;width:300px;text-align:center;font-size:6.93px;line-height:6.93px;color:#262626;transform:scaleX(1.0895)">0.26</div>
<div class="t" style="left:129.15px;top:262.79px;width:300px;text-align:center;font-size:6.93px;line-height:6.93px;color:#262626;transform:scaleX(1.0895)">0.42</div>
<div class="r" style="left:8.00px;top:27.44px"><div class="t" style="left:-150px;top:-7.36px;width:300px;text-align:center;font-size:8.69px;line-height:8.69px;color:#000;transform:scaleX(1.0025)">Bzmn</div></div>
<div class="r" style="left:8.00px;top:62.70px"><div class="t" style="left:-150px;top:-7.36px;width:300px;text-align:center;font-size:8.69px;line-height:8.69px;color:#000;transform:scaleX(1.0098)">Bzmx</div></div>
<div class="r" style="left:8.00px;top:92.36px"><div class="t" style="left:-150px;top:-7.36px;width:300px;text-align:center;font-size:8.69px;line-height:8.69px;color:#000;transform:scaleX(0.9802)">Vp</div></div>
<div class="r" style="left:8.00px;top:127.49px"><div class="t" style="left:-150px;top:-7.36px;width:300px;text-align:center;font-size:8.69px;line-height:8.69px;color:#000;transform:scaleX(0.9703)">Tp</div></div>
<div class="r" style="left:8.00px;top:163.45px"><div class="t" style="left:-150px;top:-7.36px;width:300px;text-align:center;font-size:8.69px;line-height:8.69px;color:#000;transform:scaleX(0.9834)">Np</div></div>
<div class="r" style="left:8.00px;top:202.52px"><div class="t" style="left:-150px;top:-7.36px;width:300px;text-align:center;font-size:8.69px;line-height:8.69px;color:#000;transform:scaleX(1.0191)">Beta</div></div>
<div class="r" style="left:8.00px;top:235.06px"><div class="t" style="left:-150px;top:-7.36px;width:300px;text-align:center;font-size:8.69px;line-height:8.69px;color:#000;transform:scaleX(0.9558)">Pm</div></div>
<div class="r" style="left:8.00px;top:270.68px"><div class="t" style="left:-150px;top:-7.36px;width:300px;text-align:center;font-size:8.69px;line-height:8.69px;color:#000;transform:scaleX(0.9866)">Pth</div></div>
<div class="t" style="left:-118.79px;top:286.54px;width:300px;text-align:center;font-size:8.69px;line-height:8.69px;color:#000;transform:scaleX(1.0373)">Bt</div>
<div class="t" style="left:-83.37px;top:286.54px;width:300px;text-align:center;font-size:8.69px;line-height:8.69px;color:#000;transform:scaleX(1.0025)">Bzmn</div>
<div class="t" style="left:-47.95px;top:286.54px;width:300px;text-align:center;font-size:8.69px;line-height:8.69px;color:#000;transform:scaleX(1.0098)">Bzmx</div>
<div class="t" style="left:-12.53px;top:286.54px;width:300px;text-align:center;font-size:8.69px;line-height:8.69px;color:#000;transform:scaleX(0.9802)">Vp</div>
<div class="t" style="left:22.89px;top:286.54px;width:300px;text-align:center;font-size:8.69px;line-height:8.69px;color:#000;transform:scaleX(0.9703)">Tp</div>
<div class="t" style="left:58.31px;top:286.54px;width:300px;text-align:center;font-size:8.69px;line-height:8.69px;color:#000;transform:scaleX(0.9834)">Np</div>
<div class="t" style="left:93.73px;top:286.54px;width:300px;text-align:center;font-size:8.69px;line-height:8.69px;color:#000;transform:scaleX(1.0191)">Beta</div>
<div class="t" style="left:129.15px;top:286.54px;width:300px;text-align:center;font-size:8.69px;line-height:8.69px;color:#000;transform:scaleX(0.9558)">Pm</div>
<div class="t" style="left:32.30px;top:10.02px;width:300px;text-align:center;font-size:9.66px;line-height:9.66px;color:#000;transform:scaleX(1.0750);-webkit-text-stroke-width:0.08px">Pearson Correlation Coefficient Matrix plot</div>
<div class="t" style="left:34.80px;top:19.82px;width:300px;text-align:center;font-size:9.66px;line-height:9.66px;color:#000;transform:scaleX(1.0370);-webkit-text-stroke-width:0.08px">during Planar ICME</div>
<div class="t" style="left:330.60px;top:59.87px;transform-origin:0 0;font-size:6.83px;line-height:6.83px;color:#000;transform:scaleX(1.0895)">0.8</div>
<div class="t" style="left:330.60px;top:99.43px;transform-origin:0 0;font-size:6.83px;line-height:6.83px;color:#000;transform:scaleX(1.0895)">0.4</div>
<div class="t" style="left:330.60px;top:138.99px;transform-origin:0 0;font-size:6.83px;line-height:6.83px;color:#000;transform:scaleX(1.0895)">0.0</div>
<div class="t" style="left:330.60px;top:178.55px;transform-origin:0 0;font-size:6.83px;line-height:6.83px;color:#000;transform:scaleX(1.1715)">−0.4</div>
<div class="t" style="left:330.60px;top:218.11px;transform-origin:0 0;font-size:6.83px;line-height:6.83px;color:#000;transform:scaleX(1.1715)">−0.8</div>
<div class="r" style="left:355.00px;top:141.60px"><div class="t" style="left:-150px;top:-5.78px;width:300px;text-align:center;font-size:6.83px;line-height:6.83px;color:#000;transform:scaleX(1.0794)">Correlation Coefficient</div></div>
<div class="t" style="left:261.96px;top:14.85px;width:300px;text-align:center;font-size:6.93px;line-height:6.93px;color:#262626;transform:scaleX(1.0811)">-0.60</div>
<div class="t" style="left:261.96px;top:50.27px;width:300px;text-align:center;font-size:6.93px;line-height:6.93px;color:#262626;transform:scaleX(1.0895)">0.52</div>
<div class="t" style="left:297.38px;top:50.27px;width:300px;text-align:center;font-size:6.93px;line-height:6.93px;color:#262626;transform:scaleX(1.0811)">-0.52</div>
<div class="t" style="left:261.96px;top:85.69px;width:300px;text-align:center;font-size:6.93px;line-height:6.93px;color:#262626;transform:scaleX(1.0895)">0.18</div>
<div class="t" style="left:297.38px;top:85.69px;width:300px;text-align:center;font-size:6.93px;line-height:6.93px;color:#262626;transform:scaleX(1.0811)">-0.26</div>
<div class="t" style="left:332.80px;top:85.69px;width:300px;text-align:center;font-size:6.93px;line-height:6.93px;color:#262626;transform:scaleX(1.0895)">0.40</div>
<div class="t" style="left:261.96px;top:121.11px;width:300px;text-align:center;font-size:6.93px;line-height:6.93px;color:#262626;transform:scaleX(1.0895)">0.22</div>
<div class="t" style="left:297.38px;top:121.11px;width:300px;text-align:center;font-size:6.93px;line-height:6.93px;color:#262626;transform:scaleX(1.0811)">-0.20</div>
<div class="t" style="left:332.80px;top:121.11px;width:300px;text-align:center;font-size:6.93px;line-height:6.93px;color:#262626;transform:scaleX(1.0895)">0.25</div>
<div class="t" style="left:368.22px;top:121.11px;width:300px;text-align:center;font-size:6.93px;line-height:6.93px;color:#262626;transform:scaleX(1.0895)">0.55</div>
<div class="t" style="left:261.96px;top:156.53px;width:300px;text-align:center;font-size:6.93px;line-height:6.93px;color:#262626;transform:scaleX(1.0895)">0.31</div>
<div class="t" style="left:297.38px;top:156.53px;width:300px;text-align:center;font-size:6.93px;line-height:6.93px;color:#262626;transform:scaleX(1.0811)">-0.10</div>
<div class="t" style="left:332.80px;top:156.53px;width:300px;text-align:center;font-size:6.93px;line-height:6.93px;color:#262626;transform:scaleX(1.0895)">0.15</div>
<div class="t" style="left:368.22px;top:156.53px;width:300px;text-align:center;font-size:6.93px;line-height:6.93px;color:#262626;transform:scaleX(1.0811)">-0.37</div>
<div class="t" style="left:403.64px;top:156.53px;width:300px;text-align:center;font-size:6.93px;line-height:6.93px;color:#262626;transform:scaleX(1.0811)">-0.16</div>
<div class="t" style="left:261.96px;top:191.95px;width:300px;text-align:center;font-size:6.93px;line-height:6.93px;color:#262626;transform:scaleX(1.0811)">-0.33</div>
<div class="t" style="left:297.38px;top:191.95px;width:300px;text-align:center;font-size:6.93px;line-height:6.93px;color:#262626;transform:scaleX(1.0895)">0.14</div>
<div class="t" style="left:332.80px;top:191.95px;width:300px;text-align:center;font-size:6.93px;line-height:6.93px;color:#262626;transform:scaleX(1.0811)">-0.09</div>
<div class="t" style="left:368.22px;top:191.95px;width:300px;text-align:center;font-size:6.93px;line-height:6.93px;color:#262626;transform:scaleX(1.0895)">0.06</div>
<div class="t" style="left:403.64px;top:191.95px;width:300px;text-align:center;font-size:6.93px;line-height:6.93px;color:#262626;transform:scaleX(1.0895)">0.20</div>
<div class="t" style="left:439.06px;top:191.95px;width:300px;text-align:center;font-size:6.93px;line-height:6.93px;color:#262626;transform:scaleX(1.0895)">0.16</div>
<div class="t" style="left:261.96px;top:227.37px;width:300px;text-align:center;font-size:6.93px;line-height:6.93px;color:#ffffff;transform:scaleX(1.0895)">0.95</div>
<div class="t" style="left:297.38px;top:227.37px;width:300px;text-align:center;font-size:6.93px;line-height:6.93px;color:#ffffff;transform:scaleX(1.0811)">-0.69</div>
<div class="t" style="left:332.80px;top:227.37px;width:300px;text-align:center;font-size:6.93px;line-height:6.93px;color:#262626;transform:scaleX(1.0895)">0.55</div>
<div class="t" style="left:368.22px;top:227.37px;width:300px;text-align:center;font-size:6.93px;line-height:6.93px;color:#262626;transform:scaleX(1.0895)">0.22</div>
<div class="t" style="left:403.64px;top:227.37px;width:300px;text-align:center;font-size:6.93px;line-height:6.93px;color:#262626;transform:scaleX(1.0895)">0.22</div>
<div class="t" style="left:439.06px;top:227.37px;width:300px;text-align:center;font-size:6.93px;line-height:6.93px;color:#262626;transform:scaleX(1.0895)">0.26</div>
<div class="t" style="left:474.48px;top:227.37px;width:300px;text-align:center;font-size:6.93px;line-height:6.93px;color:#262626;transform:scaleX(1.0811)">-0.25</div>
<div class="t" style="left:261.96px;top:262.79px;width:300px;text-align:center;font-size:6.93px;line-height:6.93px;color:#262626;transform:scaleX(1.0895)">0.40</div>
<div class="t" style="left:297.38px;top:262.79px;width:300px;text-align:center;font-size:6.93px;line-height:6.93px;color:#262626;transform:scaleX(1.0811)">-0.32</div>
<div class="t" style="left:332.80px;top:262.79px;width:300px;text-align:center;font-size:6.93px;line-height:6.93px;color:#262626;transform:scaleX(1.0895)">0.40</div>
<div class="t" style="left:368.22px;top:262.79px;width:300px;text-align:center;font-size:6.93px;line-height:6.93px;color:#262626;transform:scaleX(1.0895)">0.15</div>
<div class="t" style="left:403.64px;top:262.79px;width:300px;text-align:center;font-size:6.93px;line-height:6.93px;color:#262626;transform:scaleX(1.0895)">0.57</div>
<div class="t" style="left:439.06px;top:262.79px;width:300px;text-align:center;font-size:6.93px;line-height:6.93px;color:#262626;transform:scaleX(1.0895)">0.47</div>
<div class="t" style="left:474.48px;top:262.79px;width:300px;text-align:center;font-size:6.93px;line-height:6.93px;color:#262626;transform:scaleX(1.0895)">0.26</div>
<div class="t" style="left:509.90px;top:262.79px;width:300px;text-align:center;font-size:6.93px;line-height:6.93px;color:#262626;transform:scaleX(1.0895)">0.42</div>
<div class="r" style="left:388.75px;top:27.44px"><div class="t" style="left:-150px;top:-7.36px;width:300px;text-align:center;font-size:8.69px;line-height:8.69px;color:#000;transform:scaleX(1.0025)">Bzmn</div></div>
<div class="r" style="left:388.75px;top:62.70px"><div class="t" style="left:-150px;top:-7.36px;width:300px;text-align:center;font-size:8.69px;line-height:8.69px;color:#000;transform:scaleX(1.0098)">Bzmx</div></div>
<div class="r" style="left:388.75px;top:92.36px"><div class="t" style="left:-150px;top:-7.36px;width:300px;text-align:center;font-size:8.69px;line-height:8.69px;color:#000;transform:scaleX(0.9802)">Vp</div></div>
<div class="r" style="left:388.75px;top:127.49px"><div class="t" style="left:-150px;top:-7.36px;width:300px;text-align:center;font-size:8.69px;line-height:8.69px;color:#000;transform:scaleX(0.9703)">Tp</div></div>
<div class="r" style="left:388.75px;top:163.45px"><div class="t" style="left:-150px;top:-7.36px;width:300px;text-align:center;font-size:8.69px;line-height:8.69px;color:#000;transform:scaleX(0.9834)">Np</div></div>
<div class="r" style="left:388.75px;top:202.52px"><div class="t" style="left:-150px;top:-7.36px;width:300px;text-align:center;font-size:8.69px;line-height:8.69px;color:#000;transform:scaleX(1.0191)">Beta</div></div>
<div class="r" style="left:388.75px;top:235.06px"><div class="t" style="left:-150px;top:-7.36px;width:300px;text-align:center;font-size:8.69px;line-height:8.69px;color:#000;transform:scaleX(0.9558)">Pm</div></div>
<div class="r" style="left:388.75px;top:270.68px"><div class="t" style="left:-150px;top:-7.36px;width:300px;text-align:center;font-size:8.69px;line-height:8.69px;color:#000;transform:scaleX(0.9866)">Pth</div></div>
<div class="t" style="left:261.96px;top:286.54px;width:300px;text-align:center;font-size:8.69px;line-height:8.69px;color:#000;transform:scaleX(1.0373)">Bt</div>
<div class="t" style="left:297.38px;top:286.54px;width:300px;text-align:center;font-size:8.69px;line-height:8.69px;color:#000;transform:scaleX(1.0025)">Bzmn</div>
<div class="t" style="left:332.80px;top:286.54px;width:300px;text-align:center;font-size:8.69px;line-height:8.69px;color:#000;transform:scaleX(1.0098)">Bzmx</div>
<div class="t" style="left:368.22px;top:286.54px;width:300px;text-align:center;font-size:8.69px;line-height:8.69px;color:#000;transform:scaleX(0.9802)">Vp</div>
<div class="t" style="left:403.64px;top:286.54px;width:300px;text-align:center;font-size:8.69px;line-height:8.69px;color:#000;transform:scaleX(0.9703)">Tp</div>
<div class="t" style="left:439.06px;top:286.54px;width:300px;text-align:center;font-size:8.69px;line-height:8.69px;color:#000;transform:scaleX(0.9834)">Np</div>
<div class="t" style="left:474.48px;top:286.54px;width:300px;text-align:center;font-size:8.69px;line-height:8.69px;color:#000;transform:scaleX(1.0191)">Beta</div>
<div class="t" style="left:509.90px;top:286.54px;width:300px;text-align:center;font-size:8.69px;line-height:8.69px;color:#000;transform:scaleX(0.9558)">Pm</div>
<div class="t" style="left:413.05px;top:10.02px;width:300px;text-align:center;font-size:9.66px;line-height:9.66px;color:#000;transform:scaleX(1.0750);-webkit-text-stroke-width:0.08px">Pearson Correlation Coefficient Matrix plot</div>
<div class="t" style="left:415.55px;top:19.82px;width:300px;text-align:center;font-size:9.66px;line-height:9.66px;color:#000;transform:scaleX(1.0365);-webkit-text-stroke-width:0.08px">during Non-Planar ICME</div>
<div class="t" style="left:711.35px;top:59.87px;transform-origin:0 0;font-size:6.83px;line-height:6.83px;color:#000;transform:scaleX(1.0895)">0.8</div>
<div class="t" style="left:711.35px;top:99.43px;transform-origin:0 0;font-size:6.83px;line-height:6.83px;color:#000;transform:scaleX(1.0895)">0.4</div>
<div class="t" style="left:711.35px;top:138.99px;transform-origin:0 0;font-size:6.83px;line-height:6.83px;color:#000;transform:scaleX(1.0895)">0.0</div>
<div class="t" style="left:711.35px;top:178.55px;transform-origin:0 0;font-size:6.83px;line-height:6.83px;color:#000;transform:scaleX(1.1715)">−0.4</div>
<div class="t" style="left:711.35px;top:218.11px;transform-origin:0 0;font-size:6.83px;line-height:6.83px;color:#000;transform:scaleX(1.1715)">−0.8</div>
<div class="r" style="left:735.75px;top:141.60px"><div class="t" style="left:-150px;top:-5.78px;width:300px;text-align:center;font-size:6.83px;line-height:6.83px;color:#000;transform:scaleX(1.0794)">Correlation Coefficient</div></div>
</div></body></html>
